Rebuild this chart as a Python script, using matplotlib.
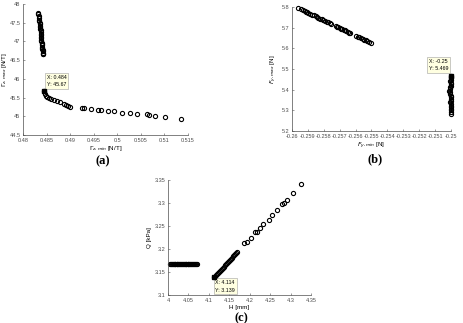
import matplotlib
matplotlib.use("Agg")
import matplotlib.pyplot as plt

# (a) torque data
a1_x = [0.4832, 0.4832, 0.4833, 0.4833, 0.4834, 0.4834, 0.4835, 0.4835, 0.4835, 0.4836,
        0.4836, 0.4837, 0.4837, 0.4837, 0.4838, 0.4838, 0.4838, 0.4839, 0.4839, 0.4840,
        0.4840, 0.4840, 0.4841, 0.4841, 0.4841, 0.4842, 0.4842, 0.4842, 0.4843, 0.4843]
a1_y = [47.76, 47.72, 47.68, 47.63, 47.58, 47.54, 47.50, 47.46, 47.41, 47.37,
        47.33, 47.29, 47.24, 47.20, 47.16, 47.12, 47.08, 47.04, 47.00, 46.96,
        46.93, 46.89, 46.86, 46.82, 46.79, 46.76, 46.73, 46.70, 46.67, 46.65]
a2_x = [0.4844, 0.4846, 0.4848, 0.4851, 0.4855, 0.4860, 0.4866, 0.4872, 0.4878, 0.4886,
        0.4891, 0.4896, 0.4899, 0.4925, 0.4930, 0.4944, 0.4959, 0.4966, 0.4980, 0.4993,
        0.5010, 0.5027, 0.5042, 0.5064, 0.5069, 0.5080, 0.5103, 0.5137]
a2_y = [45.67, 45.59, 45.55, 45.52, 45.49, 45.46, 45.43, 45.40, 45.37, 45.34,
        45.31, 45.28, 45.26, 45.23, 45.21, 45.19, 45.18, 45.17, 45.15, 45.13,
        45.10, 45.09, 45.07, 45.05, 45.03, 45.01, 44.99, 44.94]
a_tip = (0.4844, 45.67)

# (b) force data
b1_x = [-0.259625, -0.259417, -0.259313, -0.259208, -0.259125, -0.259042, -0.258958,
        -0.258833, -0.258729, -0.258625, -0.2585, -0.258417, -0.258333, -0.258208,
        -0.258125, -0.258021, -0.257917, -0.257813, -0.257708, -0.257625, -0.257542,
        -0.25725, -0.257167, -0.257083, -0.257, -0.256917, -0.256833, -0.25675,
        -0.256667, -0.256583, -0.2565, -0.256417, -0.256333, -0.255958, -0.255875,
        -0.255771, -0.255667, -0.255563, -0.255458, -0.255354, -0.25525, -0.255146,
        -0.255042]
b1_y = [5.797, 5.789, 5.785, 5.781, 5.778, 5.775, 5.772, 5.767, 5.763, 5.760,
        5.755, 5.752, 5.749, 5.744, 5.741, 5.737, 5.733, 5.729, 5.726, 5.722,
        5.719, 5.708, 5.705, 5.702, 5.699, 5.696, 5.693, 5.690, 5.687, 5.684,
        5.680, 5.677, 5.674, 5.660, 5.657, 5.653, 5.649, 5.646, 5.642, 5.639,
        5.634, 5.630, 5.626]
b2_x = [-0.25000, -0.25001, -0.25002, -0.25003, -0.25004, -0.25002, -0.25001, -0.25003,
        -0.25005, -0.25008, -0.25010, -0.25006, -0.25004, -0.25002, -0.25001, -0.25000,
        -0.25002, -0.25004, -0.25003, -0.25001, -0.25000, -0.25001, -0.25002, -0.25001,
        -0.25000]
b2_y = [5.469, 5.462, 5.455, 5.448, 5.441, 5.434, 5.427, 5.420, 5.412, 5.404,
        5.396, 5.388, 5.380, 5.372, 5.364, 5.356, 5.348, 5.340, 5.332, 5.324,
        5.316, 5.308, 5.300, 5.292, 5.285]
b_tip = (-0.25, 5.469)

# (c) pressure data
c1_x = [4.004, 4.007, 4.009, 4.012, 4.014, 4.016, 4.018, 4.021, 4.023, 4.025,
        4.027, 4.030, 4.032, 4.034, 4.036, 4.039, 4.041, 4.043, 4.045, 4.048,
        4.050, 4.052, 4.054, 4.057, 4.059, 4.061, 4.063, 4.066, 4.068, 4.070]
c1_y = [3.1668, 3.1667, 3.1666, 3.1667, 3.1668, 3.1666, 3.1667, 3.1667, 3.1668, 3.1666,
        3.1667, 3.1666, 3.1667, 3.1668, 3.1667, 3.1666, 3.1667, 3.1667, 3.1668, 3.1666,
        3.1667, 3.1666, 3.1667, 3.1668, 3.1667, 3.1666, 3.1667, 3.1667, 3.1668, 3.1667]
c2_x = [4.1126, 4.1142, 4.1167, 4.1191, 4.1216, 4.1240, 4.1265, 4.1289, 4.1314, 4.1338,
        4.1362, 4.1387, 4.1411, 4.1436, 4.1460, 4.1485, 4.1509, 4.1534, 4.1558, 4.1583,
        4.1607, 4.1632, 4.1656, 4.1689, 4.185, 4.192, 4.202, 4.212, 4.217, 4.225,
        4.233, 4.246, 4.255, 4.266, 4.279, 4.283, 4.290, 4.305, 4.3263]
c2_y = [3.1384, 3.1400, 3.1425, 3.1449, 3.1473, 3.1497, 3.1522, 3.1546, 3.1570, 3.1594,
        3.1619, 3.1643, 3.1667, 3.1691, 3.1716, 3.1740, 3.1764, 3.1788, 3.1812, 3.1837,
        3.1861, 3.1885, 3.1909, 3.1942, 3.214, 3.216, 3.224, 3.236, 3.238, 3.245,
        3.254, 3.264, 3.275, 3.284, 3.297, 3.299, 3.307, 3.322, 3.3413]
c_tip = (4.1126, 3.1384)

fig = plt.figure(figsize=(4.63, 3.23), dpi=100)
plt.rcParams['font.family'] = ['Liberation Sans', 'DejaVu Sans']

tick_fs = 4
lab_fs = 4.5


def style(ax):
    for s in ['top', 'right']:
        ax.spines[s].set_visible(False)
    for s in ['left', 'bottom']:
        ax.spines[s].set_color('#4d4d4d')
        ax.spines[s].set_linewidth(0.5)
    ax.tick_params(direction='in', length=1.5, width=0.4, labelsize=tick_fs,
                   colors='#4d4d4d', pad=2)


def scatter(ax, xs, ys):
    ax.plot(xs, ys, 'o', ms=3, mfc='none', mec='black', mew=0.8, clip_on=False)


def tip(ax, pt, text, offset, va):
    ax.plot([pt[0]], [pt[1]], 's', ms=2.5, color='black', clip_on=False, zorder=5)
    ax.annotate(text, xy=pt, xytext=offset, textcoords='offset points',
                fontsize=3.8, va=va, ha='left', linespacing=1.6,
                bbox=dict(boxstyle='square,pad=0.35', fc='#ffffe1', ec='#a0a0a0', lw=0.4))


# (a)
ax1 = fig.add_axes([0.05, 0.582, 0.355, 0.406])
scatter(ax1, a1_x, a1_y)
scatter(ax1, a2_x, a2_y)
ax1.set_xlim(0.48, 0.515)
ax1.set_ylim(44.5, 48)
ax1.set_xticks([0.48, 0.485, 0.49, 0.495, 0.5, 0.505, 0.51, 0.515])
ax1.set_xticklabels(['0.48', '0.485', '0.49', '0.495', '0.5', '0.505', '0.51', '0.515'])
ax1.set_yticks([44.5, 45, 45.5, 46, 46.5, 47, 47.5, 48])
ax1.set_yticklabels(['44.5', '45', '45.5', '46', '46.5', '47', '47.5', '48'])
ax1.set_xlabel(r'$\Gamma_{z,min}$ [N/T]', fontsize=lab_fs, labelpad=1.5)
ax1.set_ylabel(r'$\Gamma_{z,max}$ [N/T]', fontsize=lab_fs, labelpad=0.5)
style(ax1)
tip(ax1, a_tip, 'X: 0.484\nY: 45.67', (2, 3), 'bottom')

# (b)
ax2 = fig.add_axes([0.6305, 0.594, 0.3436, 0.384])
scatter(ax2, b1_x, b1_y)
scatter(ax2, b2_x, b2_y)
ax2.set_xlim(-0.26, -0.25)
ax2.set_ylim(5.2, 5.8)
ax2.set_xticks([-0.26, -0.259, -0.258, -0.257, -0.256, -0.255, -0.254, -0.253, -0.252, -0.251, -0.25])
ax2.set_xticklabels(['-0.26', '-0.259', '-0.258', '-0.257', '-0.256', '-0.255', '-0.254',
                     '-0.253', '-0.252', '-0.251', '-0.25'])
ax2.set_yticks([5.2, 5.3, 5.4, 5.5, 5.6, 5.7, 5.8])
ax2.set_xlabel(r'$F_{y,min}$ [N]', fontsize=lab_fs, labelpad=1.5)
ax2.set_ylabel(r'$F_{y,max}$ [N]', fontsize=lab_fs, labelpad=2)
style(ax2)
tip(ax2, b_tip, 'X: -0.25\nY: 5.469', (-16, 3), 'bottom')

# (c)
ax3 = fig.add_axes([0.3629, 0.0867, 0.309, 0.356])
scatter(ax3, c1_x, c1_y)
scatter(ax3, c2_x, c2_y)
ax3.set_xlim(4, 4.35)
ax3.set_ylim(3.1, 3.35)
ax3.set_xticks([4, 4.05, 4.1, 4.15, 4.2, 4.25, 4.3, 4.35])
ax3.set_xticklabels(['4', '4.05', '4.1', '4.15', '4.2', '4.25', '4.3', '4.35'])
ax3.set_yticks([3.1, 3.15, 3.2, 3.25, 3.3, 3.35])
ax3.set_yticklabels(['3.1', '3.15', '3.2', '3.25', '3.3', '3.35'])
ax3.set_xlabel('H [mm]', fontsize=lab_fs, labelpad=1.5)
ax3.set_ylabel('Q [kPa]', fontsize=lab_fs, labelpad=2)
style(ax3)
tip(ax3, c_tip, 'X: 4.114\nY: 3.139', (1, -2), 'top')

# panel letters
fig.text(103 / 463, 1 - 161 / 323, '(a)', fontsize=9, family='Liberation Serif',
         fontweight='bold', ha='center', va='center')
fig.text(375 / 463, 1 - 159 / 323, '(b)', fontsize=9, family='Liberation Serif',
         fontweight='bold', ha='center', va='center')
fig.text(241 / 463, 1 - 318 / 323, '(c)', fontsize=9, family='Liberation Serif',
         fontweight='bold', ha='center', va='center')

fig.savefig('out.png', dpi=100)
